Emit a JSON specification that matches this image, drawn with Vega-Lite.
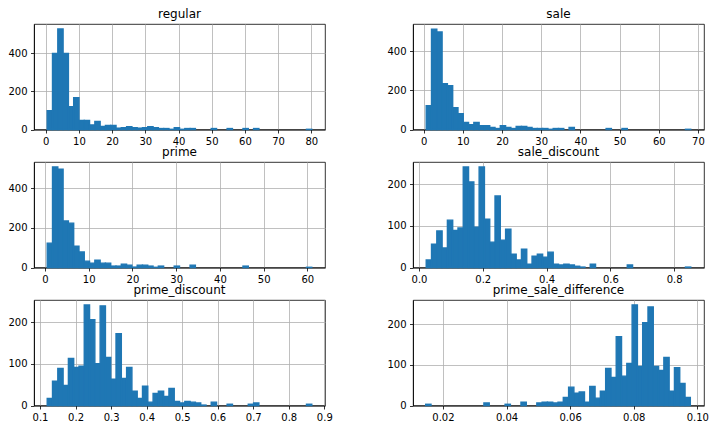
{
  "$schema": "https://vega.github.io/schema/vega-lite/v6.json",
  "padding": {"left": 7, "top": 7, "right": 10, "bottom": 5},
  "background": "white",
  "bounds": "flush",
  "columns": 2,
  "spacing": {"row": 32, "column": 88},
  "config": {
    "view": {"stroke": "black", "strokeWidth": 0.8},
    "axis": {"grid": true, "gridColor": "#b0b0b0", "gridWidth": 0.8, "domainColor": "black", "domainWidth": 0.8, "tickColor": "black", "tickWidth": 0.8, "tickSize": 3.5, "labelPadding": 3.5, "labelFont": "DejaVu Sans", "labelFontSize": 10, "labelColor": "black", "title": null, "zindex": 1, "labelFlush": false, "labelOverlap": false},
    "title": {"font": "DejaVu Sans", "fontSize": 12, "fontWeight": "normal", "color": "black", "frame": "group", "offset": 3},
    "rect": {"fill": "#1f77b4", "stroke": "#1f77b4", "strokeWidth": 1.4, "strokeOpacity": 1, "fillOpacity": 1}
  },
  "datasets": {
    "regular": [
      {"a": 0.45, "b": 2.04, "n": 99}, {"a": 2.04, "b": 3.64, "n": 400}, {"a": 3.64, "b": 5.23, "n": 528}, {"a": 5.23, "b": 6.83, "n": 400},
      {"a": 6.83, "b": 8.42, "n": 120}, {"a": 8.42, "b": 10.01, "n": 167}, {"a": 10.01, "b": 11.61, "n": 47}, {"a": 11.61, "b": 13.2, "n": 47},
      {"a": 13.2, "b": 14.8, "n": 24}, {"a": 14.8, "b": 16.39, "n": 42}, {"a": 16.39, "b": 17.99, "n": 16}, {"a": 17.99, "b": 19.58, "n": 21},
      {"a": 19.58, "b": 21.18, "n": 21}, {"a": 21.18, "b": 22.77, "n": 7}, {"a": 22.77, "b": 24.37, "n": 10}, {"a": 24.37, "b": 25.96, "n": 15},
      {"a": 25.96, "b": 27.55, "n": 10}, {"a": 27.55, "b": 29.15, "n": 7}, {"a": 29.15, "b": 30.74, "n": 10}, {"a": 30.74, "b": 32.34, "n": 15},
      {"a": 32.34, "b": 33.93, "n": 10}, {"a": 33.93, "b": 35.53, "n": 5}, {"a": 35.53, "b": 37.12, "n": 5}, {"a": 37.12, "b": 38.72, "n": 1},
      {"a": 38.72, "b": 40.31, "n": 10}, {"a": 40.31, "b": 41.9, "n": 1}, {"a": 41.9, "b": 43.5, "n": 5}, {"a": 43.5, "b": 45.09, "n": 5},
      {"a": 49.86, "b": 51.46, "n": 5}, {"a": 54.65, "b": 56.25, "n": 5}, {"a": 59.43, "b": 61.03, "n": 5}, {"a": 62.62, "b": 64.22, "n": 5},
      {"a": 78.56, "b": 80.15, "n": 1}
    ],
    "sale": [
      {"a": 0.66, "b": 2.01, "n": 122}, {"a": 2.01, "b": 3.36, "n": 513}, {"a": 3.36, "b": 4.71, "n": 498}, {"a": 4.71, "b": 6.06, "n": 234},
      {"a": 6.06, "b": 7.41, "n": 224}, {"a": 7.41, "b": 8.76, "n": 112}, {"a": 8.76, "b": 10.11, "n": 81}, {"a": 10.11, "b": 11.46, "n": 36},
      {"a": 11.46, "b": 12.81, "n": 25}, {"a": 12.81, "b": 14.16, "n": 36}, {"a": 14.16, "b": 15.51, "n": 20}, {"a": 15.51, "b": 16.86, "n": 20},
      {"a": 16.86, "b": 18.21, "n": 10}, {"a": 18.21, "b": 19.56, "n": 5}, {"a": 19.56, "b": 20.91, "n": 20}, {"a": 20.91, "b": 22.26, "n": 10},
      {"a": 22.26, "b": 23.61, "n": 5}, {"a": 23.61, "b": 24.96, "n": 15}, {"a": 24.96, "b": 26.31, "n": 15}, {"a": 26.31, "b": 27.66, "n": 10},
      {"a": 27.66, "b": 29.01, "n": 5}, {"a": 29.01, "b": 30.36, "n": 5}, {"a": 30.36, "b": 31.71, "n": 5}, {"a": 31.71, "b": 33.06, "n": 1},
      {"a": 33.06, "b": 34.41, "n": 5}, {"a": 34.41, "b": 35.76, "n": 5}, {"a": 37.11, "b": 38.46, "n": 10}, {"a": 46.56, "b": 47.91, "n": 5},
      {"a": 50.61, "b": 51.96, "n": 5}, {"a": 66.81, "b": 68.16, "n": 1}
    ],
    "prime": [
      {"a": 0.51, "b": 1.72, "n": 123}, {"a": 1.72, "b": 2.93, "n": 508}, {"a": 2.93, "b": 4.14, "n": 496}, {"a": 4.14, "b": 5.35, "n": 235},
      {"a": 5.35, "b": 6.56, "n": 224}, {"a": 6.56, "b": 7.77, "n": 107}, {"a": 7.77, "b": 8.98, "n": 78}, {"a": 8.98, "b": 10.19, "n": 32},
      {"a": 10.19, "b": 11.4, "n": 22}, {"a": 11.4, "b": 12.61, "n": 37}, {"a": 12.61, "b": 13.82, "n": 22}, {"a": 13.82, "b": 15.03, "n": 22},
      {"a": 15.03, "b": 16.24, "n": 7}, {"a": 16.24, "b": 17.45, "n": 7}, {"a": 17.45, "b": 18.66, "n": 17}, {"a": 18.66, "b": 19.87, "n": 12},
      {"a": 19.87, "b": 21.08, "n": 2}, {"a": 21.08, "b": 22.29, "n": 12}, {"a": 22.29, "b": 23.5, "n": 12}, {"a": 23.5, "b": 24.71, "n": 7},
      {"a": 24.71, "b": 25.92, "n": 1}, {"a": 25.92, "b": 27.13, "n": 7}, {"a": 29.55, "b": 30.76, "n": 7}, {"a": 33.18, "b": 34.39, "n": 12},
      {"a": 45.28, "b": 46.49, "n": 7}, {"a": 59.8, "b": 61.01, "n": 1}
    ],
    "sale_discount": [
      {"a": 0.0227, "b": 0.0393, "n": 18}, {"a": 0.0393, "b": 0.0559, "n": 56}, {"a": 0.0559, "b": 0.0725, "n": 88}, {"a": 0.0725, "b": 0.0891, "n": 47},
      {"a": 0.0891, "b": 0.1057, "n": 114}, {"a": 0.1057, "b": 0.1223, "n": 89}, {"a": 0.1223, "b": 0.1388, "n": 95}, {"a": 0.1388, "b": 0.1554, "n": 242},
      {"a": 0.1554, "b": 0.172, "n": 206}, {"a": 0.172, "b": 0.1886, "n": 97}, {"a": 0.1886, "b": 0.2052, "n": 242}, {"a": 0.2052, "b": 0.2218, "n": 116},
      {"a": 0.2218, "b": 0.2384, "n": 61}, {"a": 0.2384, "b": 0.255, "n": 172}, {"a": 0.255, "b": 0.2716, "n": 66}, {"a": 0.2716, "b": 0.2882, "n": 92},
      {"a": 0.2882, "b": 0.3048, "n": 32}, {"a": 0.3048, "b": 0.3213, "n": 18}, {"a": 0.3213, "b": 0.3379, "n": 44}, {"a": 0.3379, "b": 0.3545, "n": 8},
      {"a": 0.3545, "b": 0.3711, "n": 27}, {"a": 0.3711, "b": 0.3877, "n": 32}, {"a": 0.3877, "b": 0.4043, "n": 25}, {"a": 0.4043, "b": 0.4209, "n": 37},
      {"a": 0.4209, "b": 0.4375, "n": 8}, {"a": 0.4375, "b": 0.4541, "n": 6}, {"a": 0.4541, "b": 0.4707, "n": 8}, {"a": 0.4707, "b": 0.4873, "n": 6},
      {"a": 0.4873, "b": 0.5039, "n": 3}, {"a": 0.5039, "b": 0.5204, "n": 1}, {"a": 0.537, "b": 0.5536, "n": 8}, {"a": 0.6531, "b": 0.6697, "n": 6},
      {"a": 0.8356, "b": 0.8522, "n": 1}
    ],
    "prime_discount": [
      {"a": 0.1203, "b": 0.1352, "n": 17}, {"a": 0.1352, "b": 0.1501, "n": 58}, {"a": 0.1501, "b": 0.165, "n": 89}, {"a": 0.165, "b": 0.1799, "n": 48},
      {"a": 0.1799, "b": 0.1948, "n": 113}, {"a": 0.1948, "b": 0.2097, "n": 91}, {"a": 0.2097, "b": 0.2245, "n": 94}, {"a": 0.2245, "b": 0.2394, "n": 241},
      {"a": 0.2394, "b": 0.2543, "n": 206}, {"a": 0.2543, "b": 0.2692, "n": 100}, {"a": 0.2692, "b": 0.2841, "n": 239}, {"a": 0.2841, "b": 0.299, "n": 115},
      {"a": 0.299, "b": 0.3139, "n": 63}, {"a": 0.3139, "b": 0.3288, "n": 172}, {"a": 0.3288, "b": 0.3437, "n": 65}, {"a": 0.3437, "b": 0.3586, "n": 91},
      {"a": 0.3586, "b": 0.3735, "n": 34}, {"a": 0.3735, "b": 0.3884, "n": 17}, {"a": 0.3884, "b": 0.4033, "n": 46}, {"a": 0.4033, "b": 0.4182, "n": 8},
      {"a": 0.4182, "b": 0.433, "n": 29}, {"a": 0.433, "b": 0.4479, "n": 34}, {"a": 0.4479, "b": 0.4628, "n": 22}, {"a": 0.4628, "b": 0.4777, "n": 41},
      {"a": 0.4777, "b": 0.4926, "n": 10}, {"a": 0.4926, "b": 0.5075, "n": 6}, {"a": 0.5075, "b": 0.5224, "n": 10}, {"a": 0.5224, "b": 0.5373, "n": 8},
      {"a": 0.5373, "b": 0.5522, "n": 6}, {"a": 0.5522, "b": 0.5671, "n": 1}, {"a": 0.5818, "b": 0.5967, "n": 8}, {"a": 0.6265, "b": 0.6415, "n": 3},
      {"a": 0.686, "b": 0.701, "n": 3}, {"a": 0.701, "b": 0.7158, "n": 6}, {"a": 0.8498, "b": 0.8647, "n": 3}
    ],
    "prime_sale_difference": [
      {"a": 0.0146, "b": 0.01626, "n": 3}, {"a": 0.0329, "b": 0.03457, "n": 6}, {"a": 0.03956, "b": 0.04122, "n": 3}, {"a": 0.04455, "b": 0.04622, "n": 8},
      {"a": 0.04954, "b": 0.05121, "n": 6}, {"a": 0.05121, "b": 0.05287, "n": 8}, {"a": 0.05287, "b": 0.05454, "n": 8}, {"a": 0.05454, "b": 0.0562, "n": 6},
      {"a": 0.0562, "b": 0.05786, "n": 8}, {"a": 0.05786, "b": 0.05953, "n": 20}, {"a": 0.05953, "b": 0.06119, "n": 45}, {"a": 0.06119, "b": 0.06286, "n": 30},
      {"a": 0.06286, "b": 0.06452, "n": 33}, {"a": 0.06452, "b": 0.06618, "n": 8}, {"a": 0.06618, "b": 0.06785, "n": 47}, {"a": 0.06785, "b": 0.06951, "n": 18},
      {"a": 0.06951, "b": 0.07118, "n": 35}, {"a": 0.07118, "b": 0.07284, "n": 91}, {"a": 0.07284, "b": 0.0745, "n": 69}, {"a": 0.0745, "b": 0.07617, "n": 169},
      {"a": 0.07617, "b": 0.07783, "n": 72}, {"a": 0.07783, "b": 0.0795, "n": 103}, {"a": 0.0795, "b": 0.08116, "n": 247}, {"a": 0.08116, "b": 0.08282, "n": 96},
      {"a": 0.08282, "b": 0.08449, "n": 203}, {"a": 0.08449, "b": 0.08615, "n": 242}, {"a": 0.08615, "b": 0.08782, "n": 96}, {"a": 0.08782, "b": 0.08948, "n": 86},
      {"a": 0.08948, "b": 0.09114, "n": 118}, {"a": 0.09114, "b": 0.09281, "n": 35}, {"a": 0.09281, "b": 0.09447, "n": 93}, {"a": 0.09447, "b": 0.09614, "n": 54},
      {"a": 0.09614, "b": 0.0978, "n": 20}
    ]
  },
  "concat": [
    {
      "title": "regular", "width": 291, "height": 105.5, "data": {"name": "regular"}, "mark": "rect",
      "encoding": {
        "x": {"field": "a", "type": "quantitative", "scale": {"domain": [-3.535, 84.135], "nice": false, "zero": false}, "axis": {"values": [0, 10, 20, 30, 40, 50, 60, 70, 80], "format": "d"}},
        "x2": {"field": "b"},
        "y": {"field": "n", "type": "quantitative", "scale": {"domain": [0, 554], "nice": false}, "axis": {"values": [0, 200, 400], "format": "d"}},
        "y2": {"datum": 0}
      }
    },
    {
      "title": "sale", "width": 291, "height": 105.5, "data": {"name": "sale"}, "mark": "rect",
      "encoding": {
        "x": {"field": "a", "type": "quantitative", "scale": {"domain": [-2.715, 71.535], "nice": false, "zero": false}, "axis": {"values": [0, 10, 20, 30, 40, 50, 60, 70], "format": "d"}},
        "x2": {"field": "b"},
        "y": {"field": "n", "type": "quantitative", "scale": {"domain": [0, 539], "nice": false}, "axis": {"values": [0, 200, 400], "format": "d"}},
        "y2": {"datum": 0}
      }
    },
    {
      "title": "prime", "width": 291, "height": 105.5, "data": {"name": "prime"}, "mark": "rect",
      "encoding": {
        "x": {"field": "a", "type": "quantitative", "scale": {"domain": [-2.515, 64.035], "nice": false, "zero": false}, "axis": {"values": [0, 10, 20, 30, 40, 50, 60], "format": "d"}},
        "x2": {"field": "b"},
        "y": {"field": "n", "type": "quantitative", "scale": {"domain": [0, 533], "nice": false}, "axis": {"values": [0, 200, 400], "format": "d"}},
        "y2": {"datum": 0}
      }
    },
    {
      "title": "sale_discount", "width": 291, "height": 105.5, "data": {"name": "sale_discount"}, "mark": "rect",
      "encoding": {
        "x": {"field": "a", "type": "quantitative", "scale": {"domain": [-0.01878, 0.8937], "nice": false, "zero": false}, "axis": {"values": [0, 0.2, 0.4, 0.6, 0.8], "format": ".1f"}},
        "x2": {"field": "b"},
        "y": {"field": "n", "type": "quantitative", "scale": {"domain": [0, 254], "nice": false}, "axis": {"values": [0, 100, 200], "format": "d"}},
        "y2": {"datum": 0}
      }
    },
    {
      "title": "prime_discount", "width": 291, "height": 105.5, "data": {"name": "prime_discount"}, "mark": "rect",
      "encoding": {
        "x": {"field": "a", "type": "quantitative", "scale": {"domain": [0.0831, 0.9019], "nice": false, "zero": false}, "axis": {"values": [0.1, 0.2, 0.3, 0.4, 0.5, 0.6, 0.7, 0.8, 0.9], "format": ".1f"}},
        "x2": {"field": "b"},
        "y": {"field": "n", "type": "quantitative", "scale": {"domain": [0, 253], "nice": false}, "axis": {"values": [0, 100, 200], "format": "d"}},
        "y2": {"datum": 0}
      }
    },
    {
      "title": "prime_sale_difference", "width": 291, "height": 105.5, "data": {"name": "prime_sale_difference"}, "mark": "rect",
      "encoding": {
        "x": {"field": "a", "type": "quantitative", "scale": {"domain": [0.0106, 0.1021], "nice": false, "zero": false}, "axis": {"values": [0.02, 0.04, 0.06, 0.08, 0.1], "format": ".2f"}},
        "x2": {"field": "b"},
        "y": {"field": "n", "type": "quantitative", "scale": {"domain": [0, 259], "nice": false}, "axis": {"values": [0, 100, 200], "format": "d"}},
        "y2": {"datum": 0}
      }
    }
  ]
}
